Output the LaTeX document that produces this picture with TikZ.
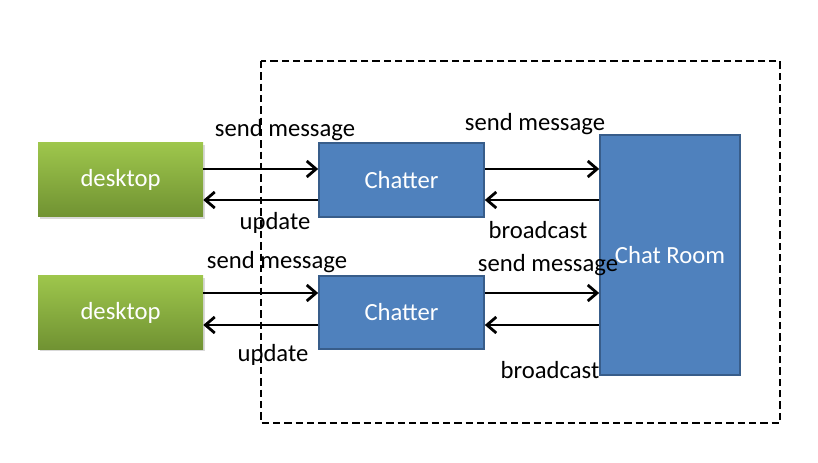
\documentclass[tikz,border=0pt]{standalone}
\usepackage{fontspec}
\setmainfont{Carlito}
\usetikzlibrary{arrows.meta}

\tikzset{
    desktopbox/.style={minimum width=165*0.75pt, minimum height=74*0.75pt, top color=deskTop, bottom color=deskBot, text=white, inner sep=0pt},
    chatterbox/.style={draw=blueLine, line width=1.2pt, fill=blueFill, text=white, inner sep=0pt},
    flow/.style={-{Straight Barb[length=7pt,width=12pt]}, line width=2.1pt},
    lbl/.style={inner sep=0pt, text=black}
}
\definecolor{deskTop}{RGB}{158,198,76}
\definecolor{deskBot}{RGB}{112,146,50}
\definecolor{blueFill}{RGB}{79,129,189}
\definecolor{blueLine}{RGB}{56,93,138}

\begin{document}
\begin{tikzpicture}[x=0.75pt,y=-0.75pt,font=\fontsize{18.5}{22}\selectfont]
        \useasboundingbox (0,0) rectangle (818,463);
        \draw[line width=1.3pt, dash pattern=on 5.5pt off 3pt](261,61) rectangle (780,423);
        % desktops
        \fill[black!15] (40,145) rectangle (205,219);
        \fill[black!15] (40,278) rectangle (205,351);
        \node[desktopbox] (desk1) at (120.5,180) {desktop};
        \node[desktopbox] (desk2) at (120.5,312.5) {desktop};
        % chatters and room
        \node[chatterbox, minimum width=165*0.75pt, minimum height=74*0.75pt] (chat1) at (401.5,180) {Chatter};
        \node[chatterbox, minimum width=165*0.75pt, minimum height=73*0.75pt] (chat2) at (401.5,312.5) {Chatter};
        \node[chatterbox, minimum width=140*0.75pt, minimum height=240*0.75pt] (room) at (670,255) {Chat Room};
        % first pair
        \draw[flow] (desk1.east |- 0,169) -- (chat1.west |- 0,169);
        \draw[flow] (chat1.west |- 0,200) -- (desk1.east |- 0,200);
        \draw[flow] (chat1.east |- 0,169) -- (room.west |- 0,169);
        \draw[flow] (room.west |- 0,200) -- (chat1.east |- 0,200);
        % second pair
        \draw[flow] (desk2.east |- 0,293) -- (chat2.west |- 0,293);
        \draw[flow] (chat2.west |- 0,325) -- (desk2.east |- 0,325);
        \draw[flow] (chat2.east |- 0,293) -- (room.west |- 0,293);
        \draw[flow] (room.west |- 0,325) -- (chat2.east |- 0,325);
        % labels
        \node[lbl] (send1) at (285,130) {send message};
        \node[lbl] (upd1) at (275,223) {update};
        \node[lbl] (send2) at (535,124) {send message};
        \node[lbl] (bc1) at (538,230) {broadcast};
        \node[lbl] (send3) at (277,262) {send message};
        \node[lbl] (upd2) at (273,355) {update};
        \node[lbl] (send4) at (548,265) {send message};
        \node[lbl] (bc2) at (550,370) {broadcast};
\end{tikzpicture}
\end{document}
